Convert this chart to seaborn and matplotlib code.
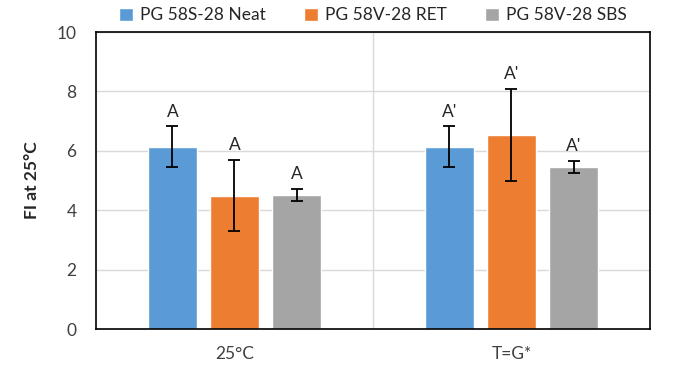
import numpy as np
import pandas as pd
import matplotlib
matplotlib.use("Agg")
import matplotlib.pyplot as plt
import seaborn as sns

# --- Data ---
conditions = ["25°C", "T=G*"]
binders = ["PG 58S-28 Neat", "PG 58V-28 RET", "PG 58V-28 SBS"]
fi_mean = {
    "PG 58S-28 Neat": [6.13, 6.13],
    "PG 58V-28 RET": [4.49, 6.54],
    "PG 58V-28 SBS": [4.52, 5.45],
}
fi_err = {
    "PG 58S-28 Neat": [0.69, 0.69],
    "PG 58V-28 RET": [1.20, 1.55],
    "PG 58V-28 SBS": [0.21, 0.20],
}
letters = {
    "PG 58S-28 Neat": ["A", "A'"],
    "PG 58V-28 RET": ["A", "A'"],
    "PG 58V-28 SBS": ["A", "A'"],
}
colors = ["#5B9BD5", "#ED7D31", "#A5A5A5"]

rows = []
for b in binders:
    for i, c in enumerate(conditions):
        rows.append({"cond": c, "binder": b, "fi": fi_mean[b][i]})
df = pd.DataFrame(rows)

sns.set_style("white")
plt.rcParams["font.family"] = ["Lato", "DejaVu Sans"]

fig = plt.figure(figsize=(6.74, 3.74), dpi=100)
ax = fig.add_axes([0.1424, 0.1203, 0.8220, 0.7941])

sns.barplot(data=df, x="cond", y="fi", hue="binder", order=conditions,
            hue_order=binders, palette=colors, width=0.672, gap=0.21,
            errorbar=None, saturation=1, ax=ax, zorder=2)

# error bars + significance letters
for b, cont in zip(binders, ax.containers):
    for i, patch in enumerate(cont):
        xc = patch.get_x() + patch.get_width() / 2
        y = fi_mean[b][i]
        e = fi_err[b][i]
        ax.errorbar(xc, y, yerr=e, fmt="none", ecolor="black",
                    elinewidth=1.3, capsize=4, capthick=1.3, zorder=3)
        ax.annotate(letters[b][i], (xc, y + e), xytext=(0, 5),
                    textcoords="offset points", ha="center", va="bottom",
                    fontsize=12.5)

ax.set_ylim(0, 10)
ax.set_xlim(-0.5, 1.5)
ax.set_yticks([0, 2, 4, 6, 8, 10])
ax.yaxis.grid(True, color="#D9D9D9", lw=1, zorder=0)
ax.axvline(0.5, color="#D9D9D9", lw=1, zorder=0)
ax.set_axisbelow(True)
for s in ax.spines.values():
    s.set_visible(True)
    s.set_color("black")
    s.set_linewidth(1.2)

ax.tick_params(axis="both", length=0, labelsize=12.5, colors="#404040")
ax.tick_params(axis="y", pad=14)
ax.tick_params(axis="x", pad=12)
ax.set_xlabel("")
ax.set_ylabel("FI at 25°C", fontsize=12.5, fontweight="bold", labelpad=12)

ax.legend(loc="lower center", bbox_to_anchor=(0.5, 1.0), ncol=3, frameon=False,
          fontsize=12.5, handlelength=0.8, handleheight=0.8, handletextpad=0.4,
          columnspacing=2.2, borderaxespad=0.1)

fig.savefig("out.png", dpi=100)
